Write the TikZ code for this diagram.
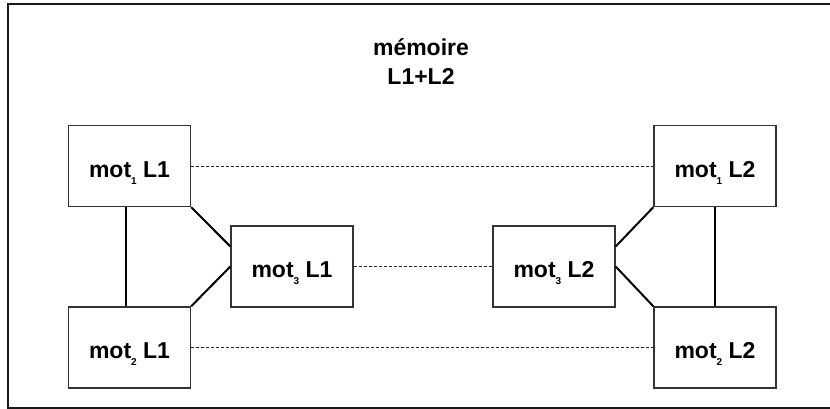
\documentclass[tikz,border=0pt]{standalone}
\usepackage{fontspec}
\setmainfont{Liberation Sans}
\newcommand{\sbx}[1]{\smash{\raisebox{-7.2pt}{\fontsize{10}{10}\selectfont #1}}}
\begin{document}
\begin{tikzpicture}[x=1pt,y=-1pt,
  wbox/.style={draw=black!80,line width=1.3pt,minimum width=122pt,minimum height=81pt,inner sep=0pt,
    text height=22pt,text depth=0pt,
    font=\fontsize{23}{26}\selectfont\bfseries},
  solidln/.style={line width=2pt,black},
  dashln/.style={line width=0.9pt,black!85,dash pattern=on 3pt off 2pt}]
\useasboundingbox (0,0) rectangle (830,409);
\clip (0,0) rectangle (830,409);
\draw[line width=2pt,black!90] (840,4) -- (8,4) -- (8,408) -- (840,408);
\node[font=\fontsize{23}{29}\selectfont\bfseries,align=center] (title) at (421,62) {mémoire\\L1+L2};
\node[wbox] (a1) at (129.5,166) {mot\sbx{1} L1};
\node[wbox] (a2) at (129.5,347.5) {mot\sbx{2} L1};
\node[wbox] (a3) at (292,266.5) {mot\sbx{3} L1};
\node[wbox] (b3) at (554,266.5) {mot\sbx{3} L2};
\node[wbox] (b1) at (715,166) {mot\sbx{1} L2};
\node[wbox] (b2) at (715,347.5) {mot\sbx{2} L2};
\draw[solidln] ([xshift=-3.5pt]a1.south) -- ([xshift=-3.5pt]a2.north);
\draw[solidln] (b1.south) -- (b2.north);
\draw[solidln] (a1.south east) -- ([yshift=20pt]a3.west);
\draw[solidln] (a2.north east) -- (a3.west);
\draw[solidln] (b1.south west) -- ([yshift=20pt]b3.east);
\draw[solidln] (b2.north west) -- (b3.east);
\draw[dashln] (a1.east) -- (b1.west);
\draw[dashln] (a3.east) -- (b3.west);
\draw[dashln] (a2.east) -- (b2.west);
\end{tikzpicture}
\end{document}
